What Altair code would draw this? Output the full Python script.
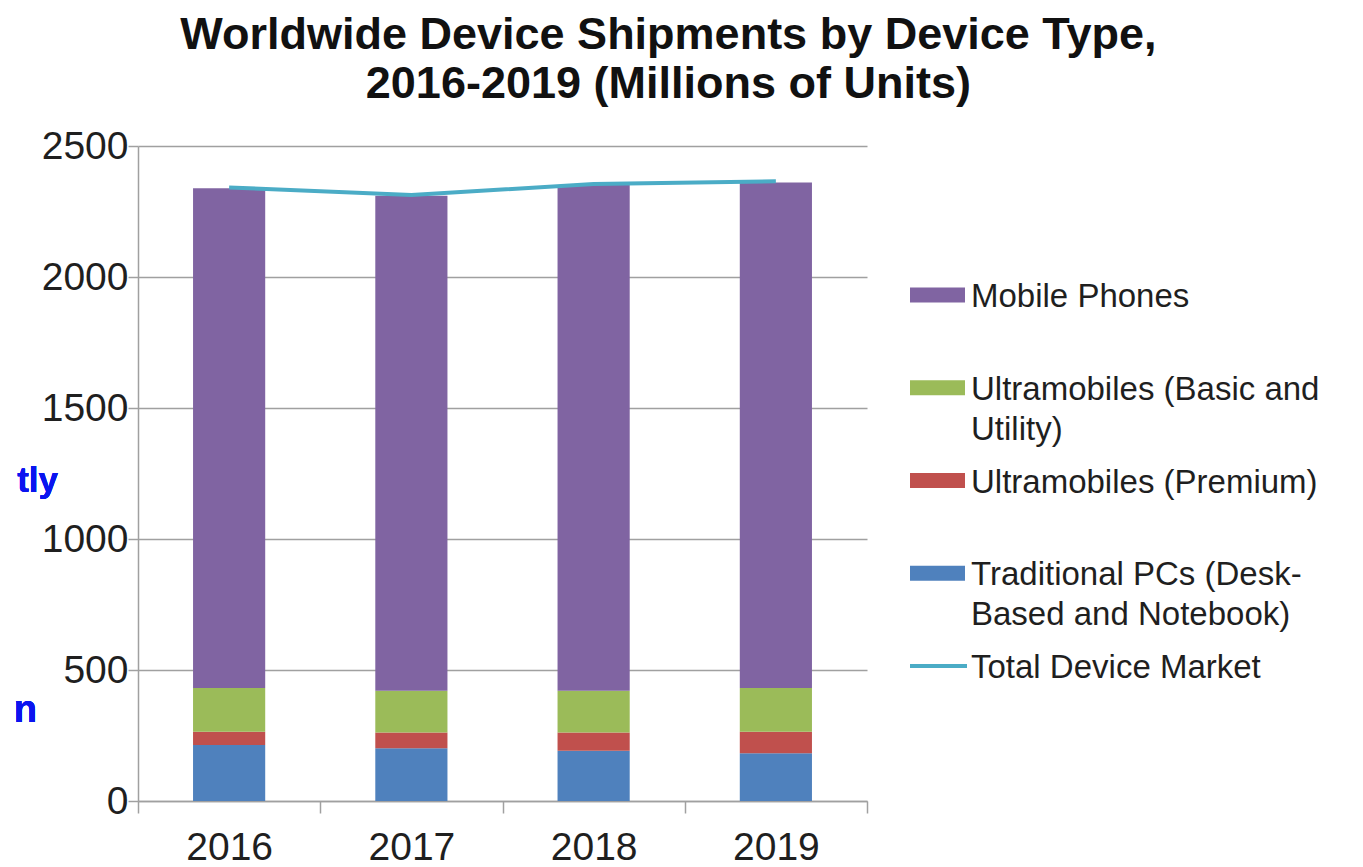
import altair as alt
import pandas as pd

# ---- data (millions of units) ----
years = ["2016", "2017", "2018", "2019"]
pcs = [214, 201, 192, 182]
premium = [50, 60, 69, 82]
basic = [167, 160, 160, 167]
mobile = [1908, 1889, 1930, 1930]
total = [2342, 2313, 2355, 2365]

series_names = [
    "Mobile Phones",
    "Ultramobiles (Basic and Utility)",
    "Ultramobiles (Premium)",
    "Traditional PCs (Desk-Based and Notebook)",
]
series_colors = ["#8064A2", "#9BBB59", "#C0504D", "#4F81BD"]
line_color = "#4BACC6"

legend_labels = [
    "Mobile Phones",
    "Ultramobiles (Basic and\nUtility)",
    "Ultramobiles (Premium)",
    "Traditional PCs (Desk-\nBased and Notebook)",
    "Total Device Market",
]
legend_kinds = ["bar", "bar", "bar", "bar", "line"]

y_ticks = [0, 500, 1000, 1500, 2000, 2500]

FONT = "Liberation Sans"
GRID = "#a0a0a0"
TXT = "#1f1f1f"

# ---- tables ----
rows = []
for order, (name, vals) in enumerate(zip(series_names[::-1], [pcs, premium, basic, mobile])):
    for y, v in zip(years, vals):
        rows.append({"year": y, "series": name, "value": v, "order": order})
bars_df = pd.DataFrame(rows)
total_df = pd.DataFrame({"year": years, "total": total})
legend_df = pd.DataFrame({"label": legend_labels, "kind": legend_kinds, "row": list(range(len(legend_labels)))})

xscale = alt.Scale(domain=years, paddingInner=0, paddingOuter=0)
yscale = alt.Scale(domain=[0, 2500], nice=False)

x_axis = alt.Axis(
    title=None, labelAngle=0, labelFont=FONT, labelFontSize=39, labelColor=TXT,
    tickBand="extent", tickSize=12, tickColor=GRID, tickWidth=1.5,
    domainColor=GRID, domainWidth=1.5, labelPadding=15, grid=False,
)
y_axis = alt.Axis(
    title=None, values=y_ticks, format="d", labelFont=FONT, labelFontSize=39, labelColor=TXT,
    tickSize=10, tickColor=GRID, tickWidth=1.5, domainColor=GRID, domainWidth=1.5,
    gridColor=GRID, gridWidth=1.5, labelPadding=0,
)

bars = alt.Chart(bars_df).mark_bar(width=alt.RelativeBandSize(0.396)).encode(
    x=alt.X("year:N", scale=xscale, axis=x_axis),
    y=alt.Y("value:Q", stack="zero", scale=yscale, axis=y_axis),
    color=alt.Color("series:N", scale=alt.Scale(domain=series_names, range=series_colors), legend=None),
    order=alt.Order("order:Q"),
)

line = alt.Chart(total_df).mark_line(color=line_color, strokeWidth=4).encode(
    x=alt.X("year:N", scale=xscale),
    y=alt.Y("total:Q", scale=yscale),
)

frag1 = alt.Chart(total_df).mark_text(
    text="tly", font=FONT, fontSize=35, fontWeight="bold", color="#0a14f0",
    align="right", baseline="alphabetic",
).encode(x=alt.value(-80), y=alt.value(346))
frag2 = alt.Chart(total_df).mark_text(
    text="n", font=FONT, fontSize=38, fontWeight="bold", color="#0a14f0",
    align="right", baseline="alphabetic",
).encode(x=alt.value(-101), y=alt.value(576))

main = alt.layer(bars, line, frag1, frag2).properties(width=729, height=655)

# ---- legend panel ----
legend_color_scale = alt.Scale(domain=legend_labels, range=series_colors + [line_color])
legend_y = alt.Scale(type="point", domain=list(range(len(legend_labels))), range=[149, 520], padding=0)

leg_bar = alt.Chart(legend_df).transform_filter("datum.kind == 'bar'").mark_rule(strokeWidth=15).encode(
    x=alt.value(42), x2=alt.value(97),
    y=alt.Y("row:O", scale=legend_y, axis=None),
    color=alt.Color("label:N", scale=legend_color_scale, legend=None),
)
leg_line = alt.Chart(legend_df).transform_filter("datum.kind == 'line'").mark_rule(strokeWidth=4).encode(
    x=alt.value(42), x2=alt.value(99),
    y=alt.Y("row:O", scale=legend_y, axis=None),
    color=alt.Color("label:N", scale=legend_color_scale, legend=None),
)
leg_text = alt.Chart(legend_df).mark_text(
    align="left", baseline="alphabetic", dy=12, font=FONT, fontSize=33,
    lineBreak="\n", lineHeight=40, color=TXT,
).encode(
    x=alt.value(103),
    y=alt.Y("row:O", scale=legend_y, axis=None),
    text="label:N",
)
legend = alt.layer(leg_bar, leg_line, leg_text).properties(width=455, height=655)

chart = alt.hconcat(main, legend, spacing=0).resolve_scale(
    color="independent", y="independent", x="independent"
).properties(
    title=alt.TitleParams(
        text=["Worldwide Device Shipments by Device Type,", "2016-2019 (Millions of Units)"],
        font=FONT, fontSize=45, fontWeight="bold", color="#111111",
        anchor="middle", lineHeight=49, offset=20,
    ),
    background="white",
).configure_view(stroke=None, strokeWidth=0)

chart.save("out.html", embed_options={"renderer": "svg", "actions": False})
